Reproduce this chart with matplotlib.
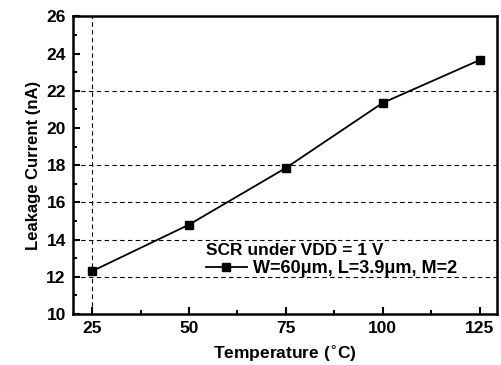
import numpy as np
from matplotlib import pyplot as plt
from matplotlib.ticker import MultipleLocator

plt.rcParams['font.family'] = ['Liberation Sans', 'DejaVu Sans']
plt.rcParams['font.weight'] = 'bold'

temp = [25, 50, 75, 100, 125]
leak = [12.3, 14.8, 17.85, 21.35, 23.65]
hgrid = [12, 14, 16, 18, 22]
vgrid = [25]

fig = plt.figure(figsize=(5.02, 3.65), dpi=100)
ax = fig.add_axes([0.145, 0.14, 0.845, 0.815])

for g in hgrid:
    ax.axhline(g, color='black', ls=(0, (4, 3)), lw=0.8, zorder=1)
for g in vgrid:
    ax.axvline(g, color='black', ls=(0, (4, 3)), lw=0.8, zorder=1)

ax.plot(temp, leak, color='black', marker='s', ms=6, lw=1.3,
        label='W=60\u03bcm, L=3.9\u03bcm, M=2', zorder=3)

ax.set_xlim(20, 129.5)
ax.set_ylim(10, 26)
ax.xaxis.set_major_locator(MultipleLocator(25))
ax.xaxis.set_minor_locator(MultipleLocator(12.5))
ax.yaxis.set_major_locator(MultipleLocator(2))
ax.yaxis.set_minor_locator(MultipleLocator(1))
ax.tick_params(which='both', direction='in', width=1.5, labelsize=12.5)
ax.tick_params(which='major', length=5, pad=5)
ax.tick_params(which='minor', length=3)
for s in ax.spines.values():
    s.set_linewidth(1.8)

ax.set_xlabel('Temperature ($^{\\circ}$C)', fontsize=12.5, fontweight='bold', labelpad=6)
ax.set_ylabel('Leakage Current (nA)', fontsize=12, fontweight='bold', labelpad=4)

leg = ax.legend(title='SCR under VDD = 1 V', loc='lower right',
                bbox_to_anchor=(0.935, 0.08), frameon=False, fontsize=13,
                title_fontproperties={'weight': 'bold', 'size': 12.5},
                handlelength=2.3, handletextpad=0.3, borderpad=0.2,
                labelspacing=0.2)
leg._legend_box.align = 'left'
leg._legend_box.sep = 2

fig.savefig('out.png', dpi=100)
